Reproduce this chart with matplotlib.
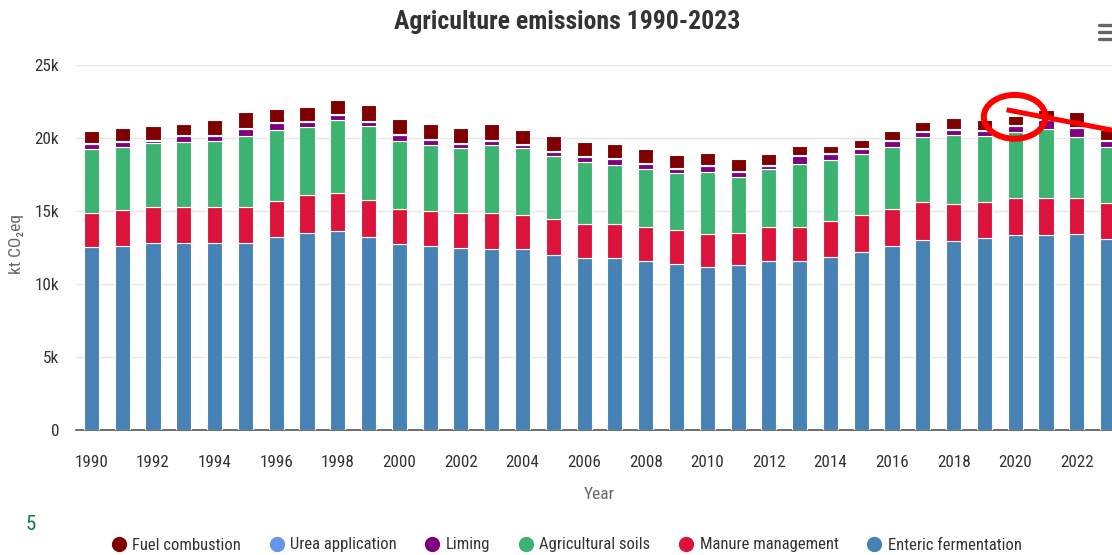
import matplotlib
matplotlib.use("Agg")
import matplotlib.pyplot as plt
import matplotlib.font_manager as fm
from matplotlib.lines import Line2D
from matplotlib.patches import Ellipse
import numpy as np

years = list(range(1990, 2024))
# values in kt CO2eq
enteric = [12510, 12630, 12830, 12830, 12830, 12830, 13240, 13470, 13650, 13240,
           12740, 12600, 12490, 12400, 12400, 11990, 11760, 11760, 11580, 11370,
           11160, 11280, 11600, 11600, 11870, 12190, 12600, 13010, 12920, 13130,
           13330, 13330, 13420, 13100]
manure = [2330, 2440, 2420, 2470, 2470, 2470, 2440, 2600, 2610, 2510,
          2420, 2420, 2350, 2440, 2300, 2440, 2350, 2350, 2350, 2330,
          2240, 2230, 2330, 2330, 2470, 2560, 2540, 2630, 2540, 2510,
          2540, 2540, 2450, 2470]
soils = [4430, 4340, 4380, 4430, 4520, 4840, 4870, 4660, 4970, 5070,
         4660, 4480, 4450, 4660, 4590, 4340, 4270, 4060, 3920, 3880,
         4270, 3840, 3970, 4270, 4150, 4150, 4270, 4450, 4750, 4520,
         4560, 4720, 4220, 3840]
liming = [330, 310, 160, 380, 290, 470, 470, 380, 320, 290,
          360, 380, 310, 290, 200, 240, 310, 380, 340, 290,
          380, 310, 150, 540, 380, 360, 380, 310, 350, 310,
          360, 660, 610, 380]
urea = [70] * 34
fuel = [800, 890, 940, 790, 1020, 1090, 910, 940, 1000, 1050,
        1040, 1020, 1010, 1110, 1000, 1070, 1000, 940, 1000, 910,
        840, 820, 750, 660, 530, 550, 610, 620, 760, 710,
        640, 570, 1000, 700]

# stacking order bottom -> top
series_names = ["Enteric fermentation", "Manure management", "Agricultural soils",
                "Liming", "Urea application", "Fuel combustion"]
series_vals = [enteric, manure, soils, liming, urea, fuel]
colors = ["#4682B4", "#DC143C", "#3CB371", "#800080", "#6495ED", "#800000"]
legend_order = ["Fuel combustion", "Urea application", "Liming",
                "Agricultural soils", "Manure management", "Enteric fermentation"]

title = "Agriculture emissions 1990-2023"
ylabel = "kt CO\u2082eq"
xlabel = "Year"
ytick_vals = [0, 5000, 10000, 15000, 20000, 25000]
ytick_labels = ["0", "5k", "10k", "15k", "20k", "25k"]

# pick a narrow font if one is installed
entries = fm.fontManager.ttflist
names = {f.name for f in entries}
if "Roboto Condensed" in names:
    FONT = ["Roboto Condensed", "DejaVu Sans"]
    k = 1.0
elif "Liberation Sans Narrow" in names:
    FONT = ["Liberation Sans Narrow", "DejaVu Sans"]
    k = 1.0
else:
    FONT = ["Liberation Sans", "DejaVu Sans"]
    k = 0.86
plt.rcParams['font.family'] = FONT

W, H = 1112, 555
fig = plt.figure(figsize=(W / 100, H / 100), dpi=100)
ax = fig.add_axes([76 / W, (H - 430) / H, (1123 - 76) / W, (430 - 65) / H])

x = np.arange(len(years))
bottom = np.zeros(len(years))
for name, vals, c in zip(series_names, series_vals, colors):
    v = np.array(vals, dtype=float)
    ax.bar(x, v, width=0.49, bottom=bottom, color=c, edgecolor="white",
           linewidth=0.8, label=name, zorder=3)
    bottom += v

ax.set_xlim(-0.5, len(years) - 0.5)
ax.set_ylim(0, 25000)
ax.set_yticks(ytick_vals)
ax.set_yticklabels(ytick_labels)
ax.set_xticks(x[::2])
ax.set_xticklabels([str(y) for y in years[::2]])
ax.tick_params(axis="both", length=0, labelsize=12.3 * k, colors="#333333")
ax.tick_params(axis="y", pad=12)
ax.tick_params(axis="x", pad=18)
ax.grid(axis="y", color="#e6e6e6", linewidth=1.0, zorder=0)
ax.set_axisbelow(True)
for s in ["top", "right", "left"]:
    ax.spines[s].set_visible(False)
ax.spines["bottom"].set_color("#555555")
ax.spines["bottom"].set_linewidth(1.2)

ax.set_xlabel(xlabel, fontsize=12.5 * k, color="#666666", labelpad=12)
fig.text(17 / W, (H - 244) / H, ylabel, rotation=90, fontsize=12.5 * k,
         color="#666666", ha="center", va="center")
fig.text(567 / W, (H - 22) / H, title, fontsize=18.5 * k, fontweight="bold",
         color="#333333", ha="center", va="center")

# legend
cmap = dict(zip(series_names, colors))
handles = [Line2D([], [], marker="o", linestyle="none", markersize=10,
                  markerfacecolor=cmap[n], markeredgecolor=cmap[n], label=n)
           for n in legend_order]
fig.legend(handles=handles, loc="center", bbox_to_anchor=(566 / W, (H - 545) / H),
           ncol=6, frameon=False, fontsize=12 * k, handletextpad=0.3,
           columnspacing=1.65, handlelength=1.0, labelcolor="#333333",
           borderaxespad=0, borderpad=0)

# page number and menu icon
fig.text(31 / W, (H - 524) / H, "5", fontsize=15, color="#0e7a3e",
         ha="center", va="center")
for yy in [25, 32, 39]:
    fig.add_artist(Line2D([1099 / W, 1114 / W], [(H - yy) / H, (H - yy) / H],
                          color="#666666", linewidth=2.4, solid_capstyle="round"))

# red annotation
ax.add_patch(Ellipse((29.98, 21450), 2.0, 3000, fill=False, edgecolor="#ff0000",
                     linewidth=4.3, clip_on=False, zorder=6))
ax.add_line(Line2D([29.8, 33.6], [21900, 20350], color="#ff0000", linewidth=3.6,
                   clip_on=False, zorder=6))

fig.savefig("out.png", dpi=100)
